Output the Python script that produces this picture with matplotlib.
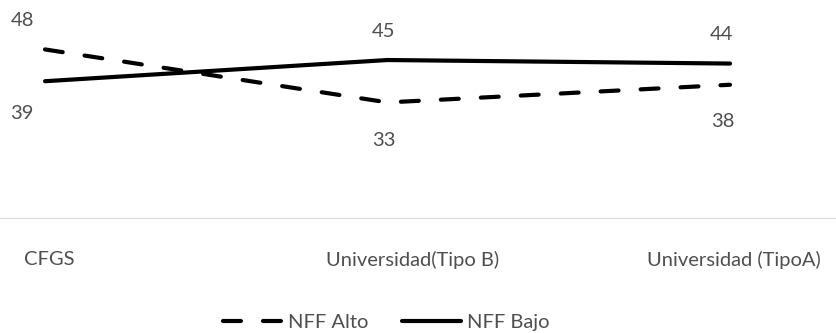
import matplotlib
matplotlib.use("Agg")
import matplotlib.pyplot as plt
import matplotlib.transforms as mtransforms

categories = ["CFGS", "Universidad(Tipo B)", "Universidad (TipoA)"]
nff_alto = [48, 33, 38]
nff_bajo = [39, 45, 44]

plt.rcParams['font.family'] = ['Lato', 'DejaVu Sans']
txt_color = '#4f4f4f'
fs = 14.5

fig = plt.figure(figsize=(8.36, 3.33), dpi=100)
ax = fig.add_axes([0, 0.3423, 1, 0.6366])

x = list(range(len(categories)))
ax.plot(x, nff_alto, color='black', lw=3, dashes=(4.3, 5.3),
        dash_capstyle='round', solid_capstyle='round', label='NFF Alto')
ax.plot(x, nff_bajo, color='black', lw=3, solid_capstyle='round',
        label='NFF Bajo')

ax.set_ylim(0, 60)
ax.set_xlim(-0.1314, 2.3095)

# baseline at zero
ax.axhline(0, color='#d9d9d9', lw=1.5, zorder=0)

for s in ax.spines.values():
    s.set_visible(False)
ax.set_yticks([])
ax.set_xticks(x)
ax.set_xticklabels(categories, fontsize=fs, color=txt_color)
ax.tick_params(axis='x', length=0, pad=23)
# nudge the tick labels a little
shifts = [4, 25, 4]
for lab, dx in zip(ax.get_xticklabels(), shifts):
    lab.set_transform(lab.get_transform() +
                      mtransforms.Affine2D().translate(dx, 0))

# data labels
alto_off = [(-22, 29), (-4, -38), (-7, -37)]
bajo_off = [(-23, -32), (-4, 29), (-8, 29)]
for xi, v, off in zip(x, nff_alto, alto_off):
    ax.annotate(str(v), (xi, v), xytext=off, textcoords='offset pixels',
                ha='center', va='center', fontsize=fs, color=txt_color,
                annotation_clip=False)
for xi, v, off in zip(x, nff_bajo, bajo_off):
    ax.annotate(str(v), (xi, v), xytext=off, textcoords='offset pixels',
                ha='center', va='center', fontsize=fs, color=txt_color,
                annotation_clip=False)

leg = fig.legend(loc='center', bbox_to_anchor=(0.462, 0.033), ncol=2,
                 frameon=False, fontsize=fs, handlelength=2.9,
                 handletextpad=0.3, columnspacing=1.7, labelcolor=txt_color)

fig.savefig('out.png', dpi=100)
